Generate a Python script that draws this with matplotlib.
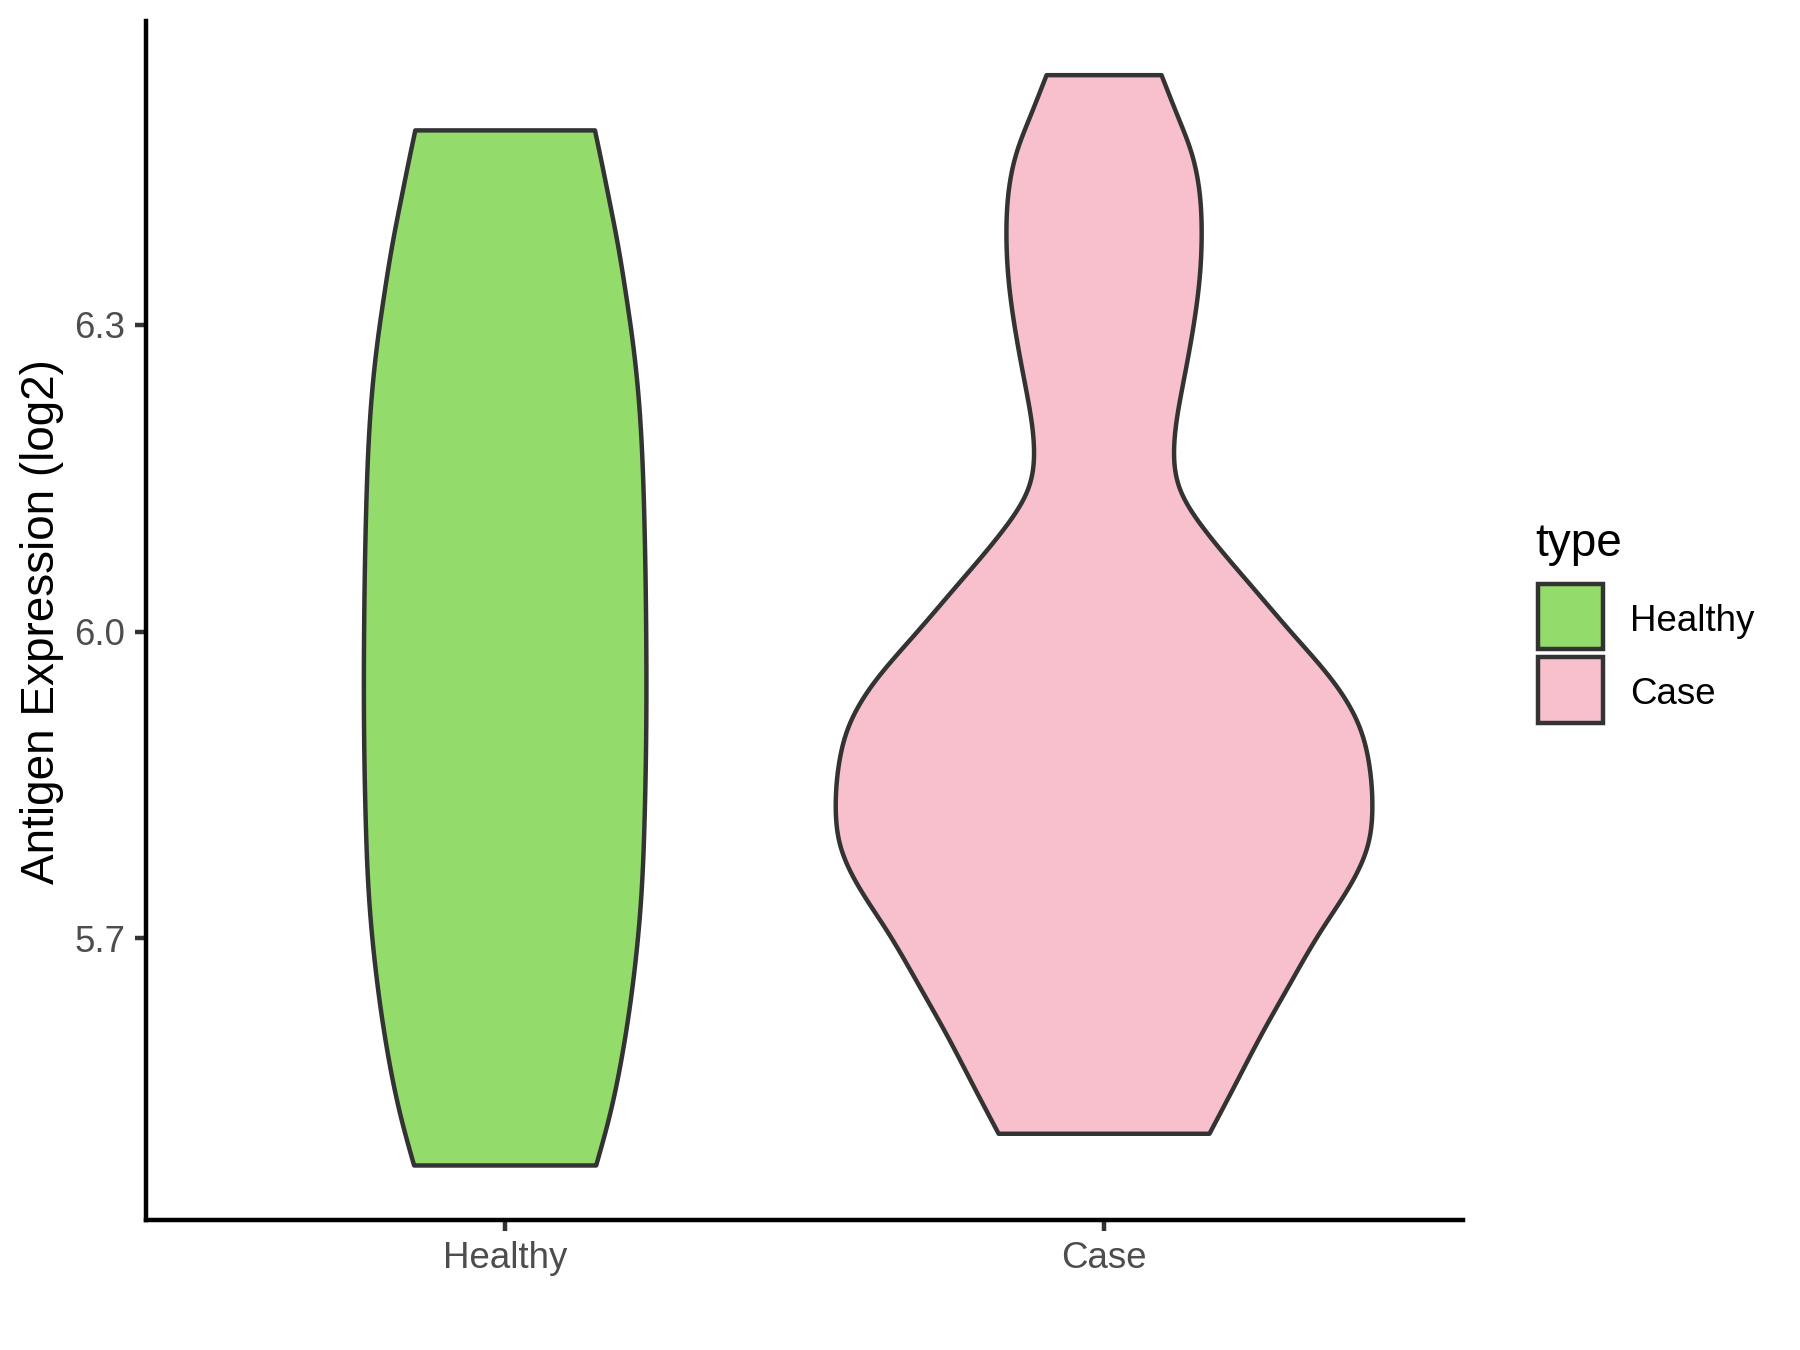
import numpy as np
import matplotlib
matplotlib.use("Agg")
import matplotlib.pyplot as plt
from matplotlib.patches import Rectangle

plt.rcParams['font.family'] = ['Liberation Sans', 'DejaVu Sans']

# ---- data ----
categories = ["Healthy", "Case"]
fill_colors = ["#93DB6A", "#F7C0CC"]

# violin outline profiles: value (log2) and half width (in x units)
healthy_y = [6.490, 6.455, 6.423, 6.384, 6.325, 6.286, 6.228, 6.120, 6.000,
             5.900, 5.820, 5.738, 5.679, 5.591, 5.523, 5.478]
healthy_w = [0.150, 0.1625, 0.1735, 0.1865, 0.203, 0.2125, 0.223, 0.232, 0.2355,
             0.2355, 0.233, 0.227, 0.218, 0.197, 0.173, 0.152]

case_y = [6.544, 6.504, 6.470, 6.436, 6.389, 6.348, 6.301, 6.267, 6.233,
          6.179, 6.139, 6.098, 6.044, 5.997, 5.950, 5.909, 5.869, 5.829,
          5.790, 5.755, 5.707, 5.653, 5.605, 5.558, 5.509]
case_w = [0.096, 0.123, 0.145, 0.158, 0.163, 0.160, 0.150, 0.140, 0.129,
          0.117, 0.127, 0.170, 0.247, 0.316, 0.384, 0.425, 0.443, 0.448,
          0.440, 0.414, 0.362, 0.308, 0.262, 0.220, 0.176]

y_ticks = [5.7, 6.0, 6.3]
y_tick_labels = ["5.7", "6.0", "6.3"]
y_label = "Antigen Expression (log2)"
legend_title = "type"


def natural_spline(xs, ys, n=400):
    """Smooth outline through the read points (natural cubic spline)."""
    x = np.asarray(xs, float)
    y = np.asarray(ys, float)
    order = np.argsort(x)
    x, y = x[order], y[order]
    m = len(x)
    h = np.diff(x)
    A = np.zeros((m, m))
    b = np.zeros(m)
    A[0, 0] = A[-1, -1] = 1.0
    for i in range(1, m - 1):
        A[i, i - 1] = h[i - 1]
        A[i, i] = 2 * (h[i - 1] + h[i])
        A[i, i + 1] = h[i]
        b[i] = 6 * ((y[i + 1] - y[i]) / h[i] - (y[i] - y[i - 1]) / h[i - 1])
    M = np.linalg.solve(A, b)
    xf = np.linspace(x[0], x[-1], n)
    k = np.clip(np.searchsorted(x, xf) - 1, 0, m - 2)
    t0 = x[k + 1] - xf
    t1 = xf - x[k]
    hk = h[k]
    yf = (M[k] * t0 ** 3 / (6 * hk) + M[k + 1] * t1 ** 3 / (6 * hk) +
          (y[k] / hk - M[k] * hk / 6) * t0 + (y[k + 1] / hk - M[k + 1] * hk / 6) * t1)
    return xf, yf


fig = plt.figure(figsize=(6, 4.5), dpi=300)
ax = fig.add_axes([0.081, 0.0963, 0.813 - 0.081, 0.9847 - 0.0963])

lw = 1.07
profiles = [(healthy_y, healthy_w), (case_y, case_w)]
for i, ((ys, ws), col) in enumerate(zip(profiles, fill_colors)):
    cx = i + 1
    yy, ww = natural_spline(ys, ws)
    xs = np.concatenate([cx - ww, (cx + ww)[::-1]])
    ysp = np.concatenate([yy, yy[::-1]])
    ax.fill(xs, ysp, facecolor=col, edgecolor="#333333", linewidth=lw,
            joinstyle="round", zorder=2)

all_y = np.concatenate([healthy_y, case_y])
lo, hi = all_y.min(), all_y.max()
pad = 0.05 * (hi - lo)
ax.set_ylim(lo - pad, hi + pad)
ax.set_xlim(0.4, 2.6)

ax.set_xticks([1, 2])
ax.set_xticklabels(categories)
ax.set_yticks(y_ticks)
ax.set_yticklabels(y_tick_labels)

for s in ["top", "right"]:
    ax.spines[s].set_visible(False)
for s in ["left", "bottom"]:
    ax.spines[s].set_linewidth(lw)
    ax.spines[s].set_color("black")
    ax.spines[s].set_capstyle("projecting")

ax.tick_params(axis="both", length=2.75, width=lw, color="#333333",
               labelsize=8.8, labelcolor="#4D4D4D", pad=2.2)

fig.text(0.0236, 0.5395, y_label, rotation=90, ha="center", va="center",
         fontsize=11, color="black")

# legend (ggplot style)
fig.text(0.853, 0.597, legend_title, ha="left", va="center", fontsize=11,
         color="black")
key_x, key_w, key_h = 0.8545, 0.0361, 0.0485
key_tops = [0.5674, 0.5133]
for lab, col, top in zip(categories, fill_colors, key_tops):
    fig.add_artist(Rectangle((key_x, top - key_h), key_w, key_h,
                             transform=fig.transFigure, facecolor=col,
                             edgecolor="#333333", linewidth=lw))
    fig.text(0.9055, top - key_h / 2 - 0.0035, lab, ha="left", va="center",
             fontsize=8.8, color="black")

fig.savefig("out.png", dpi=300, facecolor="white")
